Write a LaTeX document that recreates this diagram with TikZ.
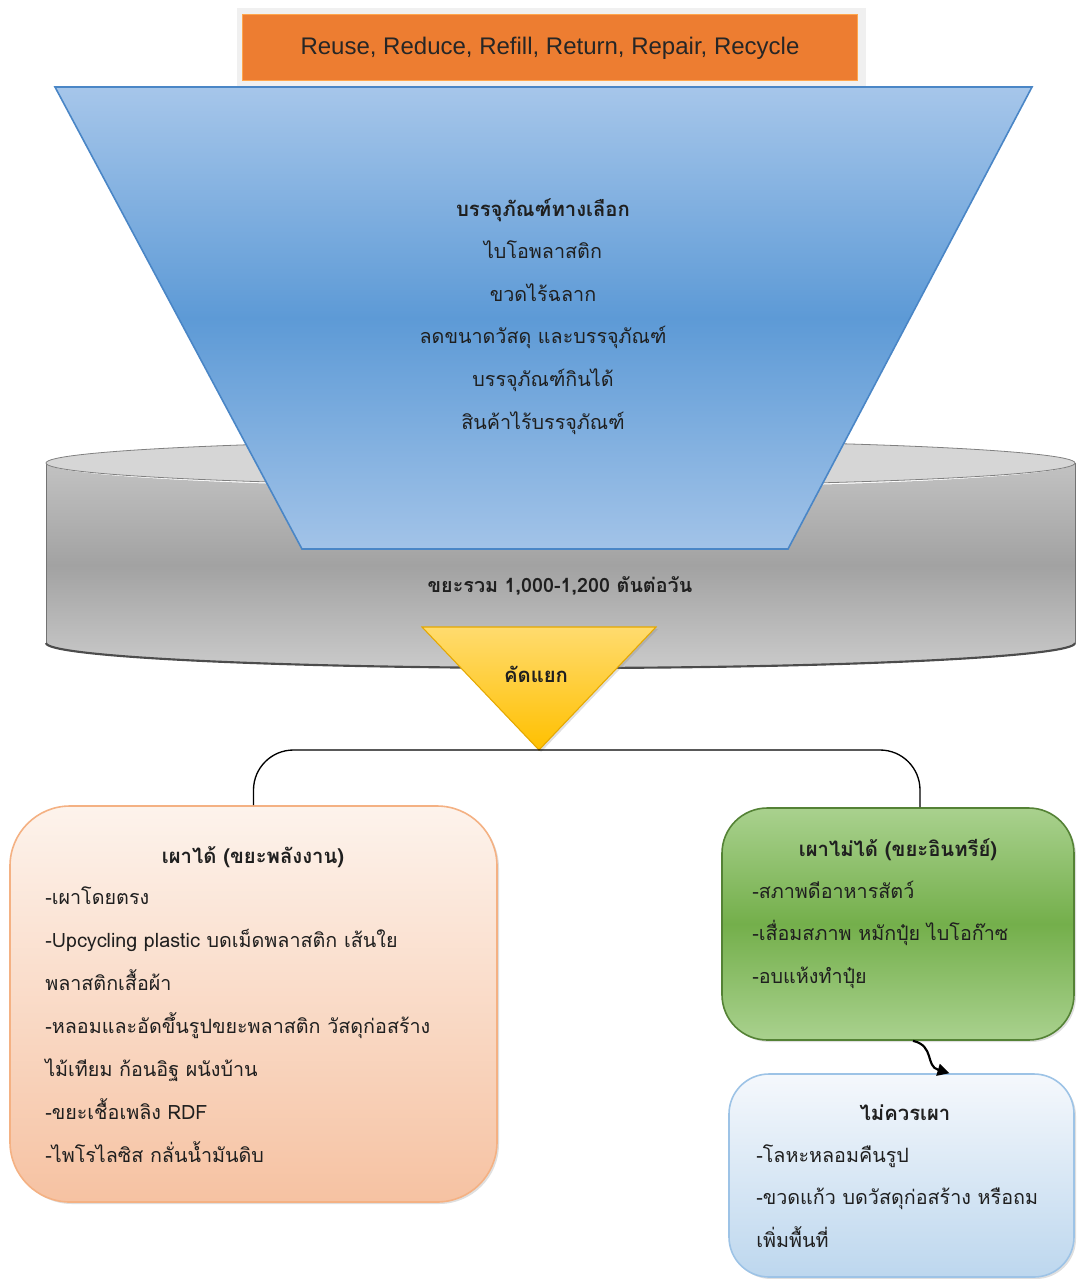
\documentclass[tikz,border=0pt]{standalone}
\usepackage{fontspec}
\setmainfont[Script=Thai]{Loma}
\newfontfamily\latinfont{Liberation Sans}
\usetikzlibrary{arrows.meta,fit,shadows,calc}
\definecolor{orangeA}{HTML}{ED7D31}
\definecolor{funTop}{HTML}{A6C6EA}
\definecolor{funMid}{HTML}{5D9AD6}
\definecolor{funBot}{HTML}{A2C3E8}
\definecolor{funEdge}{HTML}{4A86C6}
\definecolor{cylTop}{HTML}{D6D6D6}
\definecolor{cylA}{HTML}{C2C2C2}
\definecolor{cylB}{HTML}{A2A2A2}
\definecolor{cylC}{HTML}{CACACA}
\definecolor{triTop}{HTML}{FFDB6E}
\definecolor{triBot}{HTML}{FFC000}
\definecolor{triEdge}{HTML}{E5A800}
\definecolor{peachTop}{HTML}{FDF3EC}
\definecolor{peachBot}{HTML}{F6C2A2}
\definecolor{peachEdge}{HTML}{F4B183}
\definecolor{greenTop}{HTML}{A9D18E}
\definecolor{greenMid}{HTML}{74AF4B}
\definecolor{greenEdge}{HTML}{548235}
\definecolor{blueTop}{HTML}{F5F8FC}
\definecolor{blueBot}{HTML}{BDD7EE}
\definecolor{blueEdge}{HTML}{9DC3E6}
\begin{document}
\begin{tikzpicture}[x=0.75pt,y=-0.75pt,
  txt/.style={font=\fontsize{14.8}{17}\selectfont, inner sep=0pt, text=black!88},
  ttl/.style={font=\fontsize{15.2}{17}\selectfont\bfseries, inner sep=0pt, text=black!88},
  boxshadow/.style={drop shadow={opacity=0.25, shadow xshift=1.5pt, shadow yshift=-1.5pt}}]
\useasboundingbox (0,0) rectangle (1076,1279);
% top label
\node[fit={(237,8)(866,86)}, inner sep=0pt, fill=black!6] (topframe) {};
\node[fit={(242,14)(857,80)}, inner sep=0pt, fill=orangeA, draw=orange!70!white, line width=0.4pt] (topbox) {};
\node[font=\latinfont\fontsize{18}{20}\selectfont, text=black!85, anchor=base] (toptxt) at (550,54) {Reuse, Reduce, Refill, Return, Repair, Recycle};
% cylinder
\shade[top color=cylA, bottom color=cylC, middle color=cylB]
  (46,463) -- (46,643) arc[start angle=180, end angle=0, x radius=514.5, y radius=25]
  -- (1075,463) arc[start angle=0, end angle=180, x radius=514.5, y radius=25] -- cycle;
\draw[black!55, line width=0.6pt] (46,463) -- (46,643);
\draw[black!55, line width=0.6pt] (1075,463) -- (1075,643);
\draw[black!70, line width=1.6pt] (46,643) arc[start angle=180, end angle=0, x radius=514.5, y radius=25];
\draw[black!50, line width=0.6pt, fill=cylTop] (560.5,463) ellipse[x radius=514.5, y radius=23];
\node[txt, font=\fontsize{14.8}{17}\selectfont\bfseries, anchor=base] (total) at (560,592) {ขยะรวม 1,000-1,200 ตันต่อวัน};
% funnel
\shadedraw[draw=funEdge, line width=1.2pt, top color=funTop, bottom color=funBot, middle color=funMid]
  (55,87) -- (1032,87) -- (788,549) -- (302,549) -- cycle;
\node[ttl, anchor=base] (f0) at (543,216) {บรรจุภัณฑ์ทางเลือก};
\foreach \t [count=\i from 1] in {ไบโอพลาสติก, ขวดไร้ฉลาก, ลดขนาดวัสดุ และบรรจุภัณฑ์, บรรจุภัณฑ์กินได้, สินค้าไร้บรรจุภัณฑ์}
  \node[txt, anchor=base] (f\i) at (543,216+42.6*\i) {\t};
% sorting triangle
\shadedraw[draw=triEdge, line width=0.8pt, top color=triTop, bottom color=triBot, boxshadow]
  (422,627) -- (656,627) -- (539,750) -- cycle;
\coordinate (tribot) at (539,750);
\node[ttl, anchor=base] (sort) at (536,682) {คัดแยก};
% boxes
\node[fit={(10,806)(497,1202)}, inner sep=0pt, draw=peachEdge, line width=1.2pt, rounded corners=45pt, top color=peachTop, bottom color=peachBot, boxshadow] (lbox) {};
\node[fit={(722,808)(1074,1040)}, inner sep=0pt, draw=greenEdge, line width=1.2pt, rounded corners=34pt, top color=greenTop, bottom color=greenTop, middle color=greenMid, boxshadow] (gbox) {};
\node[fit={(729,1074)(1074,1277)}, inner sep=0pt, draw=blueEdge, line width=1.2pt, rounded corners=30pt, top color=blueTop, bottom color=blueBot, boxshadow] (bbox) {};
% connectors
\draw[black, line width=1pt, rounded corners=30pt] (lbox.north) |- (tribot) -| ($(gbox.north)+(22,0)$);
\draw[black, line width=1.6pt, -{Triangle[length=9pt,width=9pt]}]
  ($(gbox.south)+(15,0)$) .. controls (935,1046) and (925,1066) .. ($(bbox.north)+(48,0)$);
% left text
\node[ttl, anchor=base] (l0) at (253,863) {เผาได้ (ขยะพลังงาน)};
\foreach \t [count=\i from 1] in {-เผาโดยตรง, -Upcycling plastic บดเม็ดพลาสติก เส้นใย, พลาสติกเสื้อผ้า, -หลอมและอัดขึ้นรูปขยะพลาสติก วัสดุก่อสร้าง, ไม้เทียม ก้อนอิฐ ผนังบ้าน, -ขยะเชื้อเพลิง RDF, -ไพโรไลซิส กลั่นน้ำมันดิบ}
  \node[txt, anchor=base west] (l\i) at (45,861+43*\i) {\t};
% green text
\node[ttl, anchor=base] (g0) at (898,856) {เผาไม่ได้ (ขยะอินทรีย์)};
\foreach \t [count=\i from 1] in {-สภาพดีอาหารสัตว์, -เสื่อมสภาพ หมักปุ๋ย ไบโอก๊าซ, -อบแห้งทำปุ๋ย}
  \node[txt, anchor=base west] (g\i) at (752,856+42.4*\i) {\t};
% blue text
\node[ttl, anchor=base] (b0) at (905,1120) {ไม่ควรเผา};
\foreach \t [count=\i from 1] in {-โลหะหลอมคืนรูป, -ขวดแก้ว บดวัสดุก่อสร้าง หรือถม, เพิ่มพื้นที่}
  \node[txt, anchor=base west] (b\i) at (756,1120+42.4*\i) {\t};
\end{tikzpicture}
\end{document}
